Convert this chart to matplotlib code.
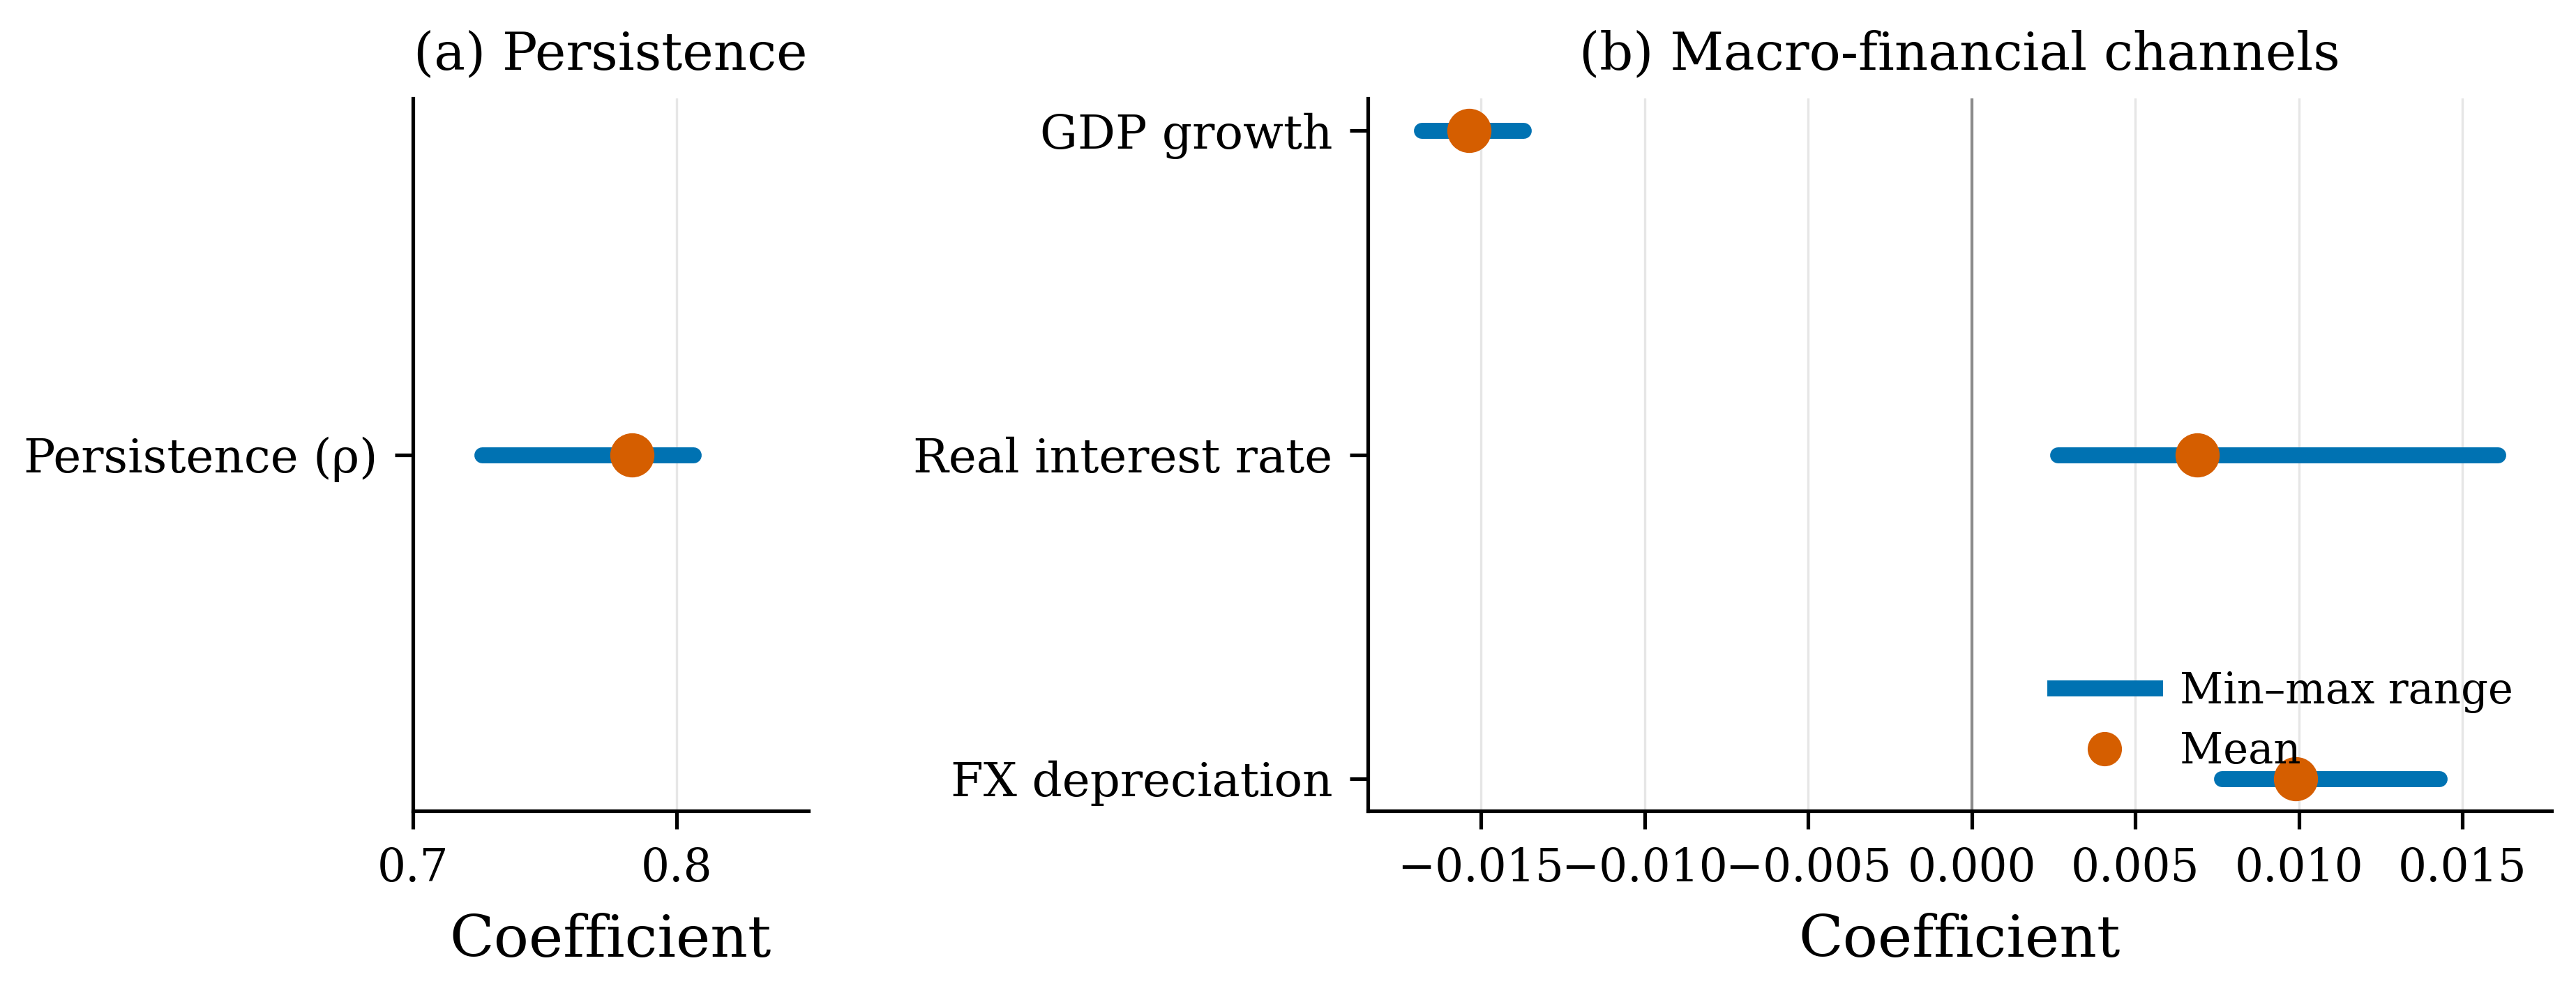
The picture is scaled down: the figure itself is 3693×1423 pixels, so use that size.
import matplotlib
matplotlib.use("Agg")
import matplotlib.pyplot as plt
from matplotlib.lines import Line2D

# DONNÉES

persistence_labels = ["Persistence (ρ)"]
persistence_min = [0.7263]
persistence_max = [0.8064]
persistence_mean = [0.7830]

channel_labels = ["GDP growth", "Real interest rate", "FX depreciation"]
channel_min = [-0.01681, 0.00264, 0.00763]
channel_max = [-0.01371, 0.01608, 0.01429]
channel_mean = [-0.01537, 0.00689, 0.00991]

BLUE = "#0072B2"
ORANGE = "#D55E00"

plt.rcParams["font.family"] = "DejaVu Serif"
plt.rcParams["axes.linewidth"] = 1.25
for k in ("xtick", "ytick"):
    plt.rcParams[f"{k}.major.size"] = 6.2
    plt.rcParams[f"{k}.major.width"] = 1.25
    plt.rcParams[f"{k}.major.pad"] = 6
plt.rcParams["xtick.labelsize"] = 15.5
plt.rcParams["ytick.labelsize"] = 16.2

W, H = 3693, 1423
fig = plt.figure(figsize=(W / 300, H / 300), dpi=300)

bottom = 1 - 1162 / H
height = (1162 - 141) / H
ax1 = fig.add_axes([592 / W, bottom, (1159 - 592) / W, height])
ax2 = fig.add_axes([1961 / W, bottom, (3658 - 1961) / W, height])


def draw_ranges(ax, labels, lo, hi, mean):
    y = list(range(len(labels)))
    ax.hlines(y, lo, hi, color=BLUE, linewidth=5.5, capstyle="round", zorder=3)
    ax.plot(mean, y, "o", color=ORANGE, markersize=14.2, zorder=4, linestyle="none")
    ax.set_yticks(y)
    ax.set_yticklabels(labels)
    ax.grid(axis="x", color="#e6e6e6", linewidth=0.8, zorder=0)
    ax.set_axisbelow(True)
    for side in ("top", "right"):
        ax.spines[side].set_visible(False)
    ax.set_xlabel("Coefficient", fontsize=20, labelpad=7.5)


# (a) Persistance
draw_ranges(ax1, persistence_labels, persistence_min, persistence_max, persistence_mean)
ax1.set_xlim(0.7, 0.85)
ax1.set_xticks([0.7, 0.8])
ax1.set_ylim(-1, 1)
ax1.set_title("(a) Persistence", fontsize=18, pad=10)

# (b) Canaux macro-financiers
draw_ranges(ax2, channel_labels, channel_min, channel_max, channel_mean)
ax2.axvline(0, color="#8c8c8c", linewidth=1.0, zorder=1)
ax2.invert_yaxis()
ax2.set_title("(b) Macro-financial channels", fontsize=18, pad=10)

handles = [
    Line2D([], [], color=BLUE, linewidth=5.5),
    Line2D([], [], color=ORANGE, marker="o", markersize=10.8, linestyle="none"),
]
ax2.legend(handles, ["Min–max range", "Mean"], loc="lower right",
           frameon=False, fontsize=14.6, handlelength=2.35,
           handletextpad=0.6, labelspacing=0.42)

fig.savefig("out.png", dpi=300)
